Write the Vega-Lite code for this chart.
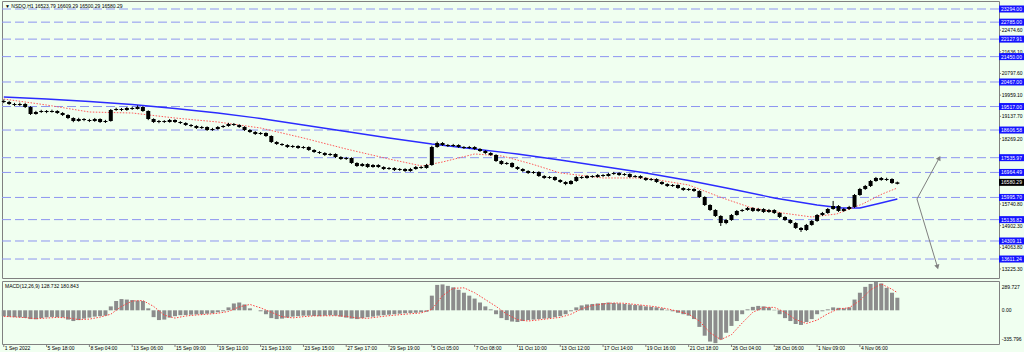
{
"$schema": "https://vega.github.io/schema/vega-lite/v6.json",
"background": "#f0fff0",
"padding": 0,
"spacing": 1,
"config": {"view": {"stroke": "#808080", "fill": "#f0fff0", "strokeWidth": 1}, "font": "Liberation Sans"},
"datasets": {
"bars": [
{"t":0,"o":19731,"h":19790,"l":19650,"c":19692,"m":-60},
{"t":6,"o":19692,"h":19735,"l":19580,"c":19615,"m":-65},
{"t":12,"o":19615,"h":19660,"l":19530,"c":19576,"m":-70},
{"t":18,"o":19576,"h":19668,"l":19540,"c":19615,"m":-72},
{"t":24,"o":19615,"h":19650,"l":19460,"c":19499,"m":-78},
{"t":30,"o":19499,"h":19530,"l":19190,"c":19227,"m":-90},
{"t":36,"o":19227,"h":19350,"l":19200,"c":19305,"m":-92},
{"t":42,"o":19305,"h":19390,"l":19270,"c":19344,"m":-80},
{"t":48,"o":19344,"h":19380,"l":19260,"c":19305,"m":-72},
{"t":54,"o":19305,"h":19395,"l":19280,"c":19344,"m":-68},
{"t":60,"o":19344,"h":19375,"l":19230,"c":19266,"m":-70},
{"t":66,"o":19266,"h":19300,"l":19150,"c":19189,"m":-72},
{"t":72,"o":19189,"h":19220,"l":19030,"c":19072,"m":-95},
{"t":78,"o":19072,"h":19100,"l":18910,"c":18956,"m":-110},
{"t":84,"o":18956,"h":19080,"l":18930,"c":19034,"m":-100},
{"t":90,"o":19034,"h":19070,"l":18950,"c":18995,"m":-85},
{"t":96,"o":18995,"h":19040,"l":18915,"c":18956,"m":-75},
{"t":102,"o":18956,"h":19075,"l":18925,"c":19034,"m":-65},
{"t":108,"o":19034,"h":19060,"l":18880,"c":18918,"m":-60},
{"t":114,"o":18918,"h":19000,"l":18880,"c":18956,"m":-55},
{"t":120,"o":18956,"h":19420,"l":18930,"c":19382,"m":40},
{"t":126,"o":19382,"h":19470,"l":19350,"c":19421,"m":95},
{"t":132,"o":19421,"h":19460,"l":19340,"c":19382,"m":115},
{"t":138,"o":19382,"h":19500,"l":19350,"c":19460,"m":110},
{"t":144,"o":19460,"h":19510,"l":19385,"c":19421,"m":105},
{"t":150,"o":19421,"h":19560,"l":19400,"c":19499,"m":100},
{"t":156,"o":19499,"h":19530,"l":19310,"c":19344,"m":95},
{"t":162,"o":19344,"h":19370,"l":18990,"c":19034,"m":20},
{"t":168,"o":19034,"h":19060,"l":18880,"c":18918,"m":-70},
{"t":174,"o":18918,"h":18995,"l":18870,"c":18956,"m":-100},
{"t":180,"o":18956,"h":18990,"l":18880,"c":18918,"m":-95},
{"t":186,"o":18918,"h":19035,"l":18890,"c":18995,"m":-75},
{"t":192,"o":18995,"h":19025,"l":18880,"c":18918,"m":-60},
{"t":198,"o":18918,"h":18950,"l":18840,"c":18879,"m":-50},
{"t":204,"o":18879,"h":18910,"l":18765,"c":18801,"m":-48},
{"t":210,"o":18801,"h":18840,"l":18720,"c":18763,"m":-45},
{"t":216,"o":18763,"h":18795,"l":18650,"c":18685,"m":-42},
{"t":222,"o":18685,"h":18765,"l":18650,"c":18724,"m":-40},
{"t":228,"o":18724,"h":18750,"l":18570,"c":18608,"m":-35},
{"t":234,"o":18608,"h":18690,"l":18575,"c":18647,"m":-30},
{"t":240,"o":18647,"h":18760,"l":18620,"c":18724,"m":-20},
{"t":246,"o":18724,"h":18800,"l":18690,"c":18763,"m":-10},
{"t":252,"o":18763,"h":18885,"l":18735,"c":18840,"m":30},
{"t":258,"o":18840,"h":18875,"l":18765,"c":18801,"m":70},
{"t":264,"o":18801,"h":18830,"l":18690,"c":18724,"m":80},
{"t":270,"o":18724,"h":18755,"l":18570,"c":18608,"m":60},
{"t":276,"o":18608,"h":18640,"l":18495,"c":18530,"m":20},
{"t":282,"o":18530,"h":18565,"l":18415,"c":18453,"m":0},
{"t":288,"o":18453,"h":18530,"l":18420,"c":18492,"m":-10},
{"t":294,"o":18492,"h":18520,"l":18340,"c":18376,"m":-40},
{"t":300,"o":18376,"h":18400,"l":18105,"c":18143,"m":-80},
{"t":306,"o":18143,"h":18175,"l":18030,"c":18066,"m":-90},
{"t":312,"o":18066,"h":18100,"l":17990,"c":18027,"m":-85},
{"t":318,"o":18027,"h":18060,"l":17910,"c":17950,"m":-75},
{"t":324,"o":17950,"h":18030,"l":17915,"c":17988,"m":-65},
{"t":330,"o":17988,"h":18020,"l":17875,"c":17911,"m":-60},
{"t":336,"o":17911,"h":17990,"l":17880,"c":17950,"m":-55},
{"t":342,"o":17950,"h":17975,"l":17800,"c":17834,"m":-55},
{"t":348,"o":17834,"h":17865,"l":17720,"c":17756,"m":-58},
{"t":354,"o":17756,"h":17790,"l":17680,"c":17717,"m":-60},
{"t":360,"o":17717,"h":17750,"l":17600,"c":17640,"m":-55},
{"t":366,"o":17640,"h":17720,"l":17605,"c":17679,"m":-50},
{"t":372,"o":17679,"h":17705,"l":17525,"c":17563,"m":-55},
{"t":378,"o":17563,"h":17595,"l":17450,"c":17485,"m":-65},
{"t":384,"o":17485,"h":17565,"l":17450,"c":17524,"m":-75},
{"t":390,"o":17524,"h":17550,"l":17295,"c":17330,"m":-85},
{"t":396,"o":17330,"h":17360,"l":17175,"c":17214,"m":-90},
{"t":402,"o":17214,"h":17330,"l":17185,"c":17292,"m":-80},
{"t":408,"o":17292,"h":17320,"l":17140,"c":17175,"m":-70},
{"t":414,"o":17175,"h":17290,"l":17145,"c":17253,"m":-65},
{"t":420,"o":17253,"h":17285,"l":17140,"c":17175,"m":-55},
{"t":426,"o":17175,"h":17205,"l":17060,"c":17098,"m":-50},
{"t":432,"o":17098,"h":17175,"l":17065,"c":17137,"m":-45},
{"t":438,"o":17137,"h":17165,"l":17020,"c":17059,"m":-40},
{"t":444,"o":17059,"h":17135,"l":17025,"c":17098,"m":-35},
{"t":450,"o":17098,"h":17130,"l":16985,"c":17021,"m":-30},
{"t":456,"o":17021,"h":17140,"l":16990,"c":17098,"m":-28},
{"t":462,"o":17098,"h":17215,"l":17070,"c":17175,"m":-25},
{"t":468,"o":17175,"h":17210,"l":17100,"c":17137,"m":-20},
{"t":474,"o":17137,"h":17295,"l":17110,"c":17253,"m":-15},
{"t":480,"o":17253,"h":18000,"l":17220,"c":17950,"m":150},
{"t":486,"o":17950,"h":18160,"l":17920,"c":18105,"m":260},
{"t":492,"o":18105,"h":18140,"l":17990,"c":18027,"m":265},
{"t":498,"o":18027,"h":18065,"l":17950,"c":17988,"m":250},
{"t":504,"o":17988,"h":18070,"l":17955,"c":18027,"m":235},
{"t":510,"o":18027,"h":18055,"l":17915,"c":17950,"m":210},
{"t":516,"o":17950,"h":17985,"l":17875,"c":17911,"m":180},
{"t":522,"o":17911,"h":17990,"l":17880,"c":17950,"m":150},
{"t":528,"o":17950,"h":17980,"l":17840,"c":17872,"m":120},
{"t":534,"o":17872,"h":17905,"l":17760,"c":17795,"m":80},
{"t":540,"o":17795,"h":17825,"l":17680,"c":17717,"m":40},
{"t":546,"o":17717,"h":17750,"l":17605,"c":17640,"m":10},
{"t":552,"o":17640,"h":17670,"l":17370,"c":17408,"m":-40},
{"t":558,"o":17408,"h":17440,"l":17255,"c":17292,"m":-80},
{"t":564,"o":17292,"h":17370,"l":17260,"c":17330,"m":-100},
{"t":570,"o":17330,"h":17360,"l":17140,"c":17175,"m":-115},
{"t":576,"o":17175,"h":17205,"l":17060,"c":17098,"m":-120},
{"t":582,"o":17098,"h":17130,"l":16985,"c":17021,"m":-110},
{"t":588,"o":17021,"h":17050,"l":16905,"c":16943,"m":-100},
{"t":594,"o":16943,"h":17020,"l":16910,"c":16982,"m":-95},
{"t":600,"o":16982,"h":17010,"l":16790,"c":16827,"m":-90},
{"t":606,"o":16827,"h":16860,"l":16715,"c":16750,"m":-85},
{"t":612,"o":16750,"h":16825,"l":16715,"c":16788,"m":-80},
{"t":618,"o":16788,"h":16815,"l":16635,"c":16672,"m":-70},
{"t":624,"o":16672,"h":16700,"l":16555,"c":16595,"m":-60},
{"t":630,"o":16595,"h":16625,"l":16470,"c":16517,"m":-40},
{"t":636,"o":16517,"h":16670,"l":16490,"c":16633,"m":-10},
{"t":642,"o":16633,"h":16830,"l":16600,"c":16788,"m":30},
{"t":648,"o":16788,"h":16825,"l":16715,"c":16750,"m":50},
{"t":654,"o":16750,"h":16865,"l":16720,"c":16827,"m":60},
{"t":660,"o":16827,"h":16860,"l":16755,"c":16788,"m":65},
{"t":666,"o":16788,"h":16905,"l":16760,"c":16866,"m":70},
{"t":672,"o":16866,"h":16900,"l":16790,"c":16827,"m":75},
{"t":678,"o":16827,"h":16945,"l":16800,"c":16904,"m":80},
{"t":684,"o":16904,"h":16985,"l":16870,"c":16943,"m":75},
{"t":690,"o":16943,"h":16975,"l":16830,"c":16866,"m":70},
{"t":696,"o":16866,"h":16940,"l":16835,"c":16904,"m":65},
{"t":702,"o":16904,"h":16930,"l":16755,"c":16788,"m":60},
{"t":708,"o":16788,"h":16865,"l":16760,"c":16827,"m":55},
{"t":714,"o":16827,"h":16855,"l":16715,"c":16750,"m":50},
{"t":720,"o":16750,"h":16780,"l":16635,"c":16672,"m":40},
{"t":726,"o":16672,"h":16750,"l":16640,"c":16711,"m":35},
{"t":732,"o":16711,"h":16740,"l":16560,"c":16595,"m":30},
{"t":738,"o":16595,"h":16625,"l":16480,"c":16517,"m":20},
{"t":744,"o":16517,"h":16545,"l":16400,"c":16440,"m":5},
{"t":750,"o":16440,"h":16515,"l":16405,"c":16478,"m":-10},
{"t":756,"o":16478,"h":16505,"l":16325,"c":16362,"m":-25},
{"t":762,"o":16362,"h":16390,"l":16250,"c":16285,"m":-40},
{"t":768,"o":16285,"h":16360,"l":16250,"c":16324,"m":-55},
{"t":774,"o":16324,"h":16355,"l":16210,"c":16246,"m":-90},
{"t":780,"o":16246,"h":16275,"l":15975,"c":16014,"m":-170},
{"t":786,"o":16014,"h":16040,"l":15665,"c":15704,"m":-260},
{"t":792,"o":15704,"h":15735,"l":15470,"c":15510,"m":-320},
{"t":798,"o":15510,"h":15540,"l":15240,"c":15278,"m":-335.796},
{"t":804,"o":15278,"h":15310,"l":14890,"c":15007,"m":-300},
{"t":810,"o":15007,"h":15165,"l":14960,"c":15123,"m":-230},
{"t":816,"o":15123,"h":15355,"l":15090,"c":15317,"m":-160},
{"t":822,"o":15317,"h":15510,"l":15290,"c":15472,"m":-110},
{"t":828,"o":15472,"h":15550,"l":15435,"c":15510,"m":-40},
{"t":834,"o":15510,"h":15630,"l":15480,"c":15588,"m":10},
{"t":840,"o":15588,"h":15620,"l":15435,"c":15472,"m":35},
{"t":846,"o":15472,"h":15590,"l":15440,"c":15549,"m":45},
{"t":852,"o":15549,"h":15580,"l":15395,"c":15433,"m":40},
{"t":858,"o":15433,"h":15550,"l":15400,"c":15510,"m":30},
{"t":864,"o":15510,"h":15540,"l":15355,"c":15394,"m":5},
{"t":870,"o":15394,"h":15425,"l":15200,"c":15239,"m":-40},
{"t":876,"o":15239,"h":15270,"l":15085,"c":15123,"m":-80},
{"t":882,"o":15123,"h":15150,"l":14970,"c":15007,"m":-110},
{"t":888,"o":15007,"h":15040,"l":14775,"c":14814,"m":-140},
{"t":894,"o":14814,"h":14850,"l":14659,"c":14736,"m":-150},
{"t":900,"o":14736,"h":14970,"l":14700,"c":14930,"m":-120},
{"t":906,"o":14930,"h":15120,"l":14900,"c":15085,"m":-90},
{"t":912,"o":15085,"h":15355,"l":15050,"c":15317,"m":-40},
{"t":918,"o":15317,"h":15435,"l":15280,"c":15394,"m":-10},
{"t":924,"o":15394,"h":15590,"l":15360,"c":15549,"m":10},
{"t":930,"o":15549,"h":15860,"l":15520,"c":15665,"m":30},
{"t":936,"o":15665,"h":15700,"l":15435,"c":15472,"m":25},
{"t":942,"o":15472,"h":15590,"l":15440,"c":15549,"m":20},
{"t":948,"o":15549,"h":15670,"l":15510,"c":15627,"m":30},
{"t":954,"o":15627,"h":16130,"l":15590,"c":16091,"m":110},
{"t":960,"o":16091,"h":16365,"l":16060,"c":16324,"m":180},
{"t":966,"o":16324,"h":16480,"l":16290,"c":16440,"m":240},
{"t":972,"o":16440,"h":16672,"l":16400,"c":16633,"m":270},
{"t":978,"o":16633,"h":16790,"l":16600,"c":16750,"m":289.727},
{"t":984,"o":16750,"h":16788,"l":16640,"c":16672,"m":275},
{"t":990,"o":16672,"h":16760,"l":16635,"c":16711,"m":230},
{"t":996,"o":16711,"h":16740,"l":16520,"c":16556,"m":180},
{"t":1002,"o":16523.79,"h":16609.29,"l":16500.29,"c":16580.29,"m":128.732}
],
"slow": [
{"t":0,"p":19886},{"t":48,"p":19808},{"t":96,"p":19712},{"t":144,"p":19596},{"t":192,"p":19441},{"t":240,"p":19266},{"t":288,"p":19053},{"t":336,"p":18801},{"t":384,"p":18550},{"t":432,"p":18298},{"t":480,"p":18066},{"t":528,"p":17872},{"t":576,"p":17679},{"t":624,"p":17446},{"t":672,"p":17195},{"t":720,"p":16943},{"t":768,"p":16653},{"t":816,"p":16324},{"t":864,"p":15975},{"t":912,"p":15704},{"t":940,"p":15588},{"t":960,"p":15588},{"t":979,"p":15743},{"t":1002,"p":15936}
],
"fast": [
{"t":0,"p":19808},{"t":48,"p":19576},{"t":96,"p":19305},{"t":144,"p":19266},{"t":192,"p":19072},{"t":240,"p":18918},{"t":288,"p":18685},{"t":336,"p":18298},{"t":384,"p":17872},{"t":432,"p":17485},{"t":469,"p":17214},{"t":492,"p":17369},{"t":528,"p":17679},{"t":559,"p":17601},{"t":592,"p":17292},{"t":624,"p":16943},{"t":672,"p":16750},{"t":720,"p":16750},{"t":768,"p":16478},{"t":806,"p":15975},{"t":839,"p":15588},{"t":873,"p":15394},{"t":906,"p":15239},{"t":934,"p":15356},{"t":963,"p":15743},{"t":985,"p":16130},{"t":1002,"p":16362}
],
"signal": [
{"t":0,"s":-62},{"t":12,"s":-68},{"t":24,"s":-75},{"t":36,"s":-85},{"t":48,"s":-80},{"t":60,"s":-72},{"t":72,"s":-78},{"t":84,"s":-95},{"t":96,"s":-90},{"t":108,"s":-70},{"t":120,"s":-40},{"t":132,"s":40},{"t":144,"s":95},{"t":156,"s":100},{"t":168,"s":40},{"t":180,"s":-50},{"t":192,"s":-80},{"t":204,"s":-58},{"t":216,"s":-48},{"t":228,"s":-40},{"t":240,"s":-30},{"t":252,"s":-12},{"t":264,"s":35},{"t":276,"s":60},{"t":288,"s":25},{"t":300,"s":-20},{"t":312,"s":-65},{"t":324,"s":-78},{"t":336,"s":-65},{"t":348,"s":-57},{"t":360,"s":-56},{"t":372,"s":-55},{"t":384,"s":-62},{"t":396,"s":-78},{"t":408,"s":-82},{"t":420,"s":-68},{"t":432,"s":-55},{"t":444,"s":-45},{"t":456,"s":-35},{"t":468,"s":-27},{"t":480,"s":10},{"t":492,"s":150},{"t":504,"s":225},{"t":516,"s":230},{"t":528,"s":180},{"t":540,"s":110},{"t":552,"s":40},{"t":564,"s":-40},{"t":576,"s":-95},{"t":588,"s":-110},{"t":600,"s":-98},{"t":612,"s":-85},{"t":624,"s":-72},{"t":636,"s":-40},{"t":648,"s":15},{"t":660,"s":50},{"t":672,"s":65},{"t":684,"s":75},{"t":696,"s":72},{"t":708,"s":60},{"t":720,"s":48},{"t":732,"s":35},{"t":744,"s":15},{"t":756,"s":-10},{"t":768,"s":-40},{"t":780,"s":-110},{"t":792,"s":-230},{"t":804,"s":-300},{"t":816,"s":-250},{"t":828,"s":-130},{"t":840,"s":-20},{"t":852,"s":30},{"t":864,"s":30},{"t":876,"s":-20},{"t":888,"s":-95},{"t":900,"s":-135},{"t":912,"s":-100},{"t":924,"s":-35},{"t":936,"s":15},{"t":948,"s":25},{"t":960,"s":100},{"t":972,"s":210},{"t":984,"s":270},{"t":996,"s":215},{"t":1002,"s":180.843}
],
"levels": [
{"p":23294},{"p":22785},{"p":22127.91},{"p":21450},{"p":20467},{"p":19517},{"p":18606.58},{"p":17535.97},{"p":16964.49},{"p":15995.7},{"p":15136.82},{"p":14309.11},{"p":13611.24}
],
"ygrid": [
{"p":22474.6},{"p":21636.1},{"p":20797.6},{"p":19959.1},{"p":19137.7},{"p":18269.2},{"p":15740.8},{"p":14902.3},{"p":14063.8},{"p":13225.3}
],
"mlab": [{"m":289.727,"s":"289.727"},{"m":0,"s":"0.00"},{"m":-335.796,"s":"-335.796"}],
"xlab": [
{"t":0,"s":"1 Sep 2022"},{"t":48,"s":"5 Sep 18:00"},{"t":96,"s":"8 Sep 04:00"},{"t":144,"s":"13 Sep 06:00"},{"t":192,"s":"15 Sep 09:00"},{"t":240,"s":"19 Sep 11:00"},{"t":288,"s":"21 Sep 13:00"},{"t":336,"s":"23 Sep 15:00"},{"t":384,"s":"27 Sep 17:00"},{"t":432,"s":"29 Sep 19:00"},{"t":480,"s":"5 Oct 05:00"},{"t":528,"s":"7 Oct 08:00"},{"t":576,"s":"11 Oct 10:00"},{"t":624,"s":"13 Oct 12:00"},{"t":672,"s":"17 Oct 14:00"},{"t":720,"s":"19 Oct 16:00"},{"t":768,"s":"21 Oct 18:00"},{"t":816,"s":"26 Oct 04:00"},{"t":864,"s":"28 Oct 06:00"},{"t":912,"s":"1 Nov 09:00"},{"t":960,"s":"4 Nov 06:00"}
],
"last": [{"p":16580.29}],
"arrows": [
{"a":"up","t":1024,"p":15936},{"a":"up","t":1049,"p":17524},
{"a":"dn","t":1024,"p":15936},{"a":"dn","t":1047,"p":13302}
],
"heads": [{"a":"up","t":1049,"p":17524},{"a":"dn","t":1047,"p":13302}]
},
"vconcat": [
{
"width": 997, "height": 277,
"layer": [
{"data": {"name": "levels"}, "mark": {"type": "rule", "color": "#8d95f0", "strokeDash": [9, 4], "strokeWidth": 1},
 "encoding": {"y": {"field": "p", "type": "quantitative", "scale": {"domain": [12876, 23604], "nice": false, "zero": false}, "axis": null}}},
{"data": {"name": "slow"}, "mark": {"type": "line", "color": "#2b2bff", "strokeWidth": 1.4},
 "encoding": {"x": {"field": "t", "type": "quantitative", "scale": {"domain": [-2, 1116], "nice": false, "zero": false, "padding": 0}, "axis": null},
  "y": {"field": "p", "type": "quantitative", "axis": null}}},
{"data": {"name": "fast"}, "mark": {"type": "line", "color": "#ff5a5a", "strokeWidth": 1, "strokeDash": [1.5, 1.5]},
 "encoding": {"x": {"field": "t", "type": "quantitative", "axis": null}, "y": {"field": "p", "type": "quantitative", "axis": null}}},
{"data": {"name": "bars"}, "mark": {"type": "rule", "color": "#000000", "strokeWidth": 1},
 "encoding": {"x": {"field": "t", "type": "quantitative", "axis": null}, "y": {"field": "l", "type": "quantitative", "axis": null}, "y2": {"field": "h"}}},
{"data": {"name": "bars"}, "mark": {"type": "bar", "color": "#000000", "size": 4},
 "encoding": {"x": {"field": "t", "type": "quantitative", "axis": null, "scale": {"domain": [-2, 1116], "nice": false, "zero": false, "padding": 0}}, "y": {"field": "o", "type": "quantitative", "axis": null}, "y2": {"field": "c"}}},
{"data": {"name": "arrows"}, "mark": {"type": "line", "color": "#7f7f7f", "strokeWidth": 1},
 "encoding": {"x": {"field": "t", "type": "quantitative", "axis": null}, "y": {"field": "p", "type": "quantitative", "axis": null}, "detail": {"field": "a"}}},
{"data": {"name": "heads"}, "transform": [{"filter": "datum.a == 'up'"}], "mark": {"type": "point", "shape": "triangle-up", "filled": true, "color": "#7f7f7f", "size": 28, "angle": 28, "opacity": 1},
 "encoding": {"x": {"field": "t", "type": "quantitative", "axis": null}, "y": {"field": "p", "type": "quantitative", "axis": null}}},
{"data": {"name": "heads"}, "transform": [{"filter": "datum.a == 'dn'"}], "mark": {"type": "point", "shape": "triangle-up", "filled": true, "color": "#7f7f7f", "size": 28, "angle": 164, "opacity": 1},
 "encoding": {"x": {"field": "t", "type": "quantitative", "axis": null}, "y": {"field": "p", "type": "quantitative", "axis": null}}},
{"data": {"name": "ygrid"}, "mark": {"type": "tick", "orient": "horizontal", "color": "#808080", "size": 2, "thickness": 1, "opacity": 1},
 "encoding": {"x": {"datum": 1117.2, "type": "quantitative", "axis": null}, "y": {"field": "p", "type": "quantitative", "axis": null}}},
{"data": {"name": "ygrid"}, "mark": {"type": "text", "color": "#000000", "fontSize": 5, "font": "Liberation Sans", "align": "left", "baseline": "middle", "dx": 1},
 "encoding": {"x": {"datum": 1118, "type": "quantitative", "axis": null}, "y": {"field": "p", "type": "quantitative", "axis": null}, "text": {"field": "p", "type": "quantitative", "format": ".2f"}}},
{"data": {"name": "levels"}, "mark": {"type": "tick", "orient": "horizontal", "color": "#1414ff", "size": 25, "thickness": 7, "opacity": 1},
 "encoding": {"x": {"datum": 1130, "type": "quantitative", "axis": null}, "y": {"field": "p", "type": "quantitative", "axis": null}}},
{"data": {"name": "levels"}, "mark": {"type": "text", "color": "#ffffff", "fontSize": 5, "font": "Liberation Sans", "align": "center", "baseline": "middle"},
 "encoding": {"x": {"datum": 1130, "type": "quantitative", "axis": null}, "y": {"field": "p", "type": "quantitative", "axis": null}, "text": {"field": "p", "type": "quantitative", "format": ".2f"}}},
{"data": {"name": "last"}, "mark": {"type": "tick", "orient": "horizontal", "color": "#000000", "size": 25, "thickness": 7, "opacity": 1},
 "encoding": {"x": {"datum": 1130, "type": "quantitative", "axis": null}, "y": {"field": "p", "type": "quantitative", "axis": null}}},
{"data": {"name": "last"}, "mark": {"type": "text", "color": "#ffffff", "fontSize": 5, "font": "Liberation Sans", "align": "center", "baseline": "middle"},
 "encoding": {"x": {"datum": 1130, "type": "quantitative", "axis": null}, "y": {"field": "p", "type": "quantitative", "axis": null}, "text": {"field": "p", "type": "quantitative", "format": ".2f"}}},
{"data": {"values": [{"s": "▼ NSDQ,H1  16523.79 16609.29 16500.29 16580.29"}]}, "mark": {"type": "text", "color": "#000000", "fontSize": 5, "font": "Liberation Sans", "align": "left", "baseline": "middle", "dx": 3, "dy": 5},
 "encoding": {"x": {"datum": -2, "type": "quantitative", "axis": null}, "y": {"datum": 23604, "type": "quantitative", "axis": null}, "text": {"field": "s"}}}
]
},
{
"width": 997, "height": 63,
"layer": [
{"data": {"name": "bars"}, "mark": {"type": "bar", "color": "#8c8c8c", "size": 4},
 "encoding": {
  "x": {"field": "t", "type": "quantitative", "scale": {"domain": [-2, 1116], "nice": false, "zero": false, "padding": 0}, "axis": null},
  "y": {"field": "m", "type": "quantitative", "scale": {"domain": [-345, 300], "nice": false, "zero": false}, "axis": null},
  "y2": {"datum": 0}}},
{"data": {"name": "signal"}, "mark": {"type": "line", "color": "#ff4040", "strokeWidth": 1, "strokeDash": [1.5, 1.5]},
 "encoding": {"x": {"field": "t", "type": "quantitative", "axis": null}, "y": {"field": "s", "type": "quantitative", "axis": null}}},
{"data": {"name": "xlab"}, "mark": {"type": "tick", "orient": "vertical", "color": "#808080", "size": 3, "thickness": 1, "opacity": 1},
 "encoding": {"x": {"field": "t", "type": "quantitative", "axis": null}, "y": {"datum": -360, "type": "quantitative", "axis": null}}},
{"data": {"name": "xlab"}, "mark": {"type": "text", "color": "#000000", "fontSize": 5, "font": "Liberation Sans", "align": "left", "baseline": "top", "dx": 1, "dy": 2},
 "encoding": {"x": {"field": "t", "type": "quantitative", "axis": null}, "y": {"datum": -345, "type": "quantitative", "axis": null}, "text": {"field": "s"}}},
{"data": {"name": "mlab"}, "transform": [{"filter": "datum.m > 100"}], "mark": {"type": "text", "color": "#000000", "fontSize": 5, "font": "Liberation Sans", "align": "left", "baseline": "top", "dx": 1, "dy": 3},
 "encoding": {"x": {"datum": 1118, "type": "quantitative", "axis": null}, "y": {"field": "m", "type": "quantitative", "axis": null}, "text": {"field": "s"}}},
{"data": {"name": "mlab"}, "transform": [{"filter": "datum.m <= 100 && datum.m >= -100"}], "mark": {"type": "text", "color": "#000000", "fontSize": 5, "font": "Liberation Sans", "align": "left", "baseline": "middle", "dx": 1},
 "encoding": {"x": {"datum": 1118, "type": "quantitative", "axis": null}, "y": {"field": "m", "type": "quantitative", "axis": null}, "text": {"field": "s"}}},
{"data": {"name": "mlab"}, "transform": [{"filter": "datum.m < -100"}], "mark": {"type": "text", "color": "#000000", "fontSize": 5, "font": "Liberation Sans", "align": "left", "baseline": "bottom", "dx": 1, "dy": -1},
 "encoding": {"x": {"datum": 1118, "type": "quantitative", "axis": null}, "y": {"field": "m", "type": "quantitative", "axis": null}, "text": {"field": "s"}}},
{"data": {"values": [{"s": "MACD(12,26,9) 128.732 180.843"}]}, "mark": {"type": "text", "color": "#000000", "fontSize": 5, "font": "Liberation Sans", "align": "left", "baseline": "middle", "dx": 3, "dy": 5},
 "encoding": {"x": {"datum": -2, "type": "quantitative", "axis": null}, "y": {"datum": 300, "type": "quantitative", "axis": null}, "text": {"field": "s"}}}
]
}
]
}
